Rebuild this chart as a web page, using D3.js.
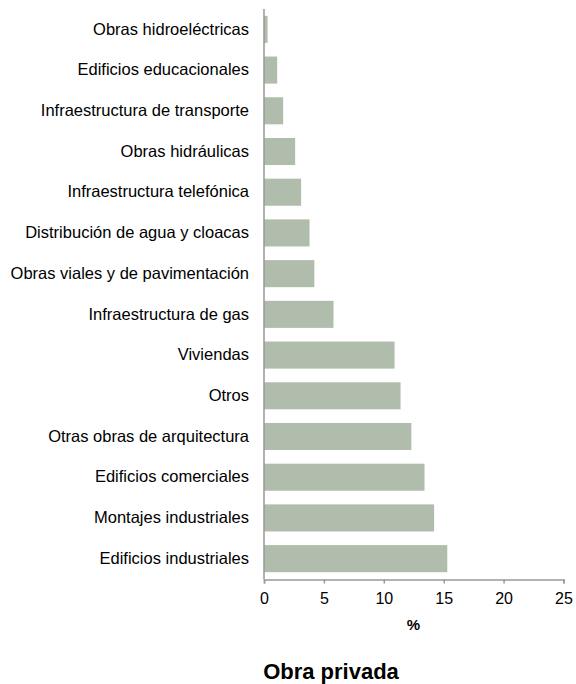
<!DOCTYPE html>
<html><head><meta charset="utf-8">
<script src="https://cdn.jsdelivr.net/npm/d3@7"></script>
<style>body{margin:0;background:#fff}svg{display:block}text{font-family:"Liberation Sans",Arial,sans-serif}</style>
</head><body>
<script>
const categories = ["Obras hidroeléctricas","Edificios educacionales","Infraestructura de transporte","Obras hidráulicas","Infraestructura telefónica","Distribución de agua y cloacas","Obras viales y de pavimentación","Infraestructura de gas","Viviendas","Otros","Otras obras de arquitectura","Edificios comerciales","Montajes industriales","Edificios industriales"];
const values = [0.3,1.1,1.6,2.6,3.1,3.8,4.2,5.8,10.9,11.4,12.3,13.4,14.2,15.3];
const xTicks = [0,5,10,15,20,25];
const xLabel = "%";
const title = "Obra privada";

const W=576,H=684;
const svg=d3.select("body").append("svg").attr("width",W).attr("height",H);
const x=d3.scaleLinear().domain([0,25]).range([264,563.5]);
const y=d3.scaleBand().domain(categories).range([9,579]).paddingInner(0.335).paddingOuter(0.1675);

svg.append("g").selectAll("rect").data(values).join("rect")
  .attr("x",x(0)).attr("y",(d,i)=>y(categories[i]))
  .attr("width",d=>x(d)-x(0)).attr("height",y.bandwidth())
  .attr("fill","#b0bdac");

const xa=svg.append("g").attr("transform","translate(0,579.5)")
  .call(d3.axisBottom(x).tickValues(xTicks).tickSize(4).tickPadding(9));
xa.select(".domain").attr("stroke","#999").attr("stroke-width",1.5);
xa.selectAll(".tick line").attr("stroke","#999").attr("stroke-width",1.5);
xa.selectAll("text").attr("font-size",16).attr("fill","#000").style("font-family","Liberation Sans, Arial, sans-serif");

const ya=svg.append("g").attr("transform","translate(264,0)")
  .call(d3.axisLeft(y).tickSize(0).tickPadding(15));
ya.select(".domain").attr("stroke","#999").attr("stroke-width",1.5).attr("d","M0,9V579.5");
ya.selectAll("text").attr("font-size",16.5).attr("fill","#000").style("font-family","Liberation Sans, Arial, sans-serif");

svg.append("text").attr("x",413.5).attr("y",630).attr("text-anchor","middle")
  .attr("font-size",15).attr("font-weight","bold").text(xLabel);
svg.append("text").attr("x",331).attr("y",679).attr("text-anchor","middle")
  .attr("font-size",22).attr("font-weight","bold").text(title);
</script>
</body></html>
